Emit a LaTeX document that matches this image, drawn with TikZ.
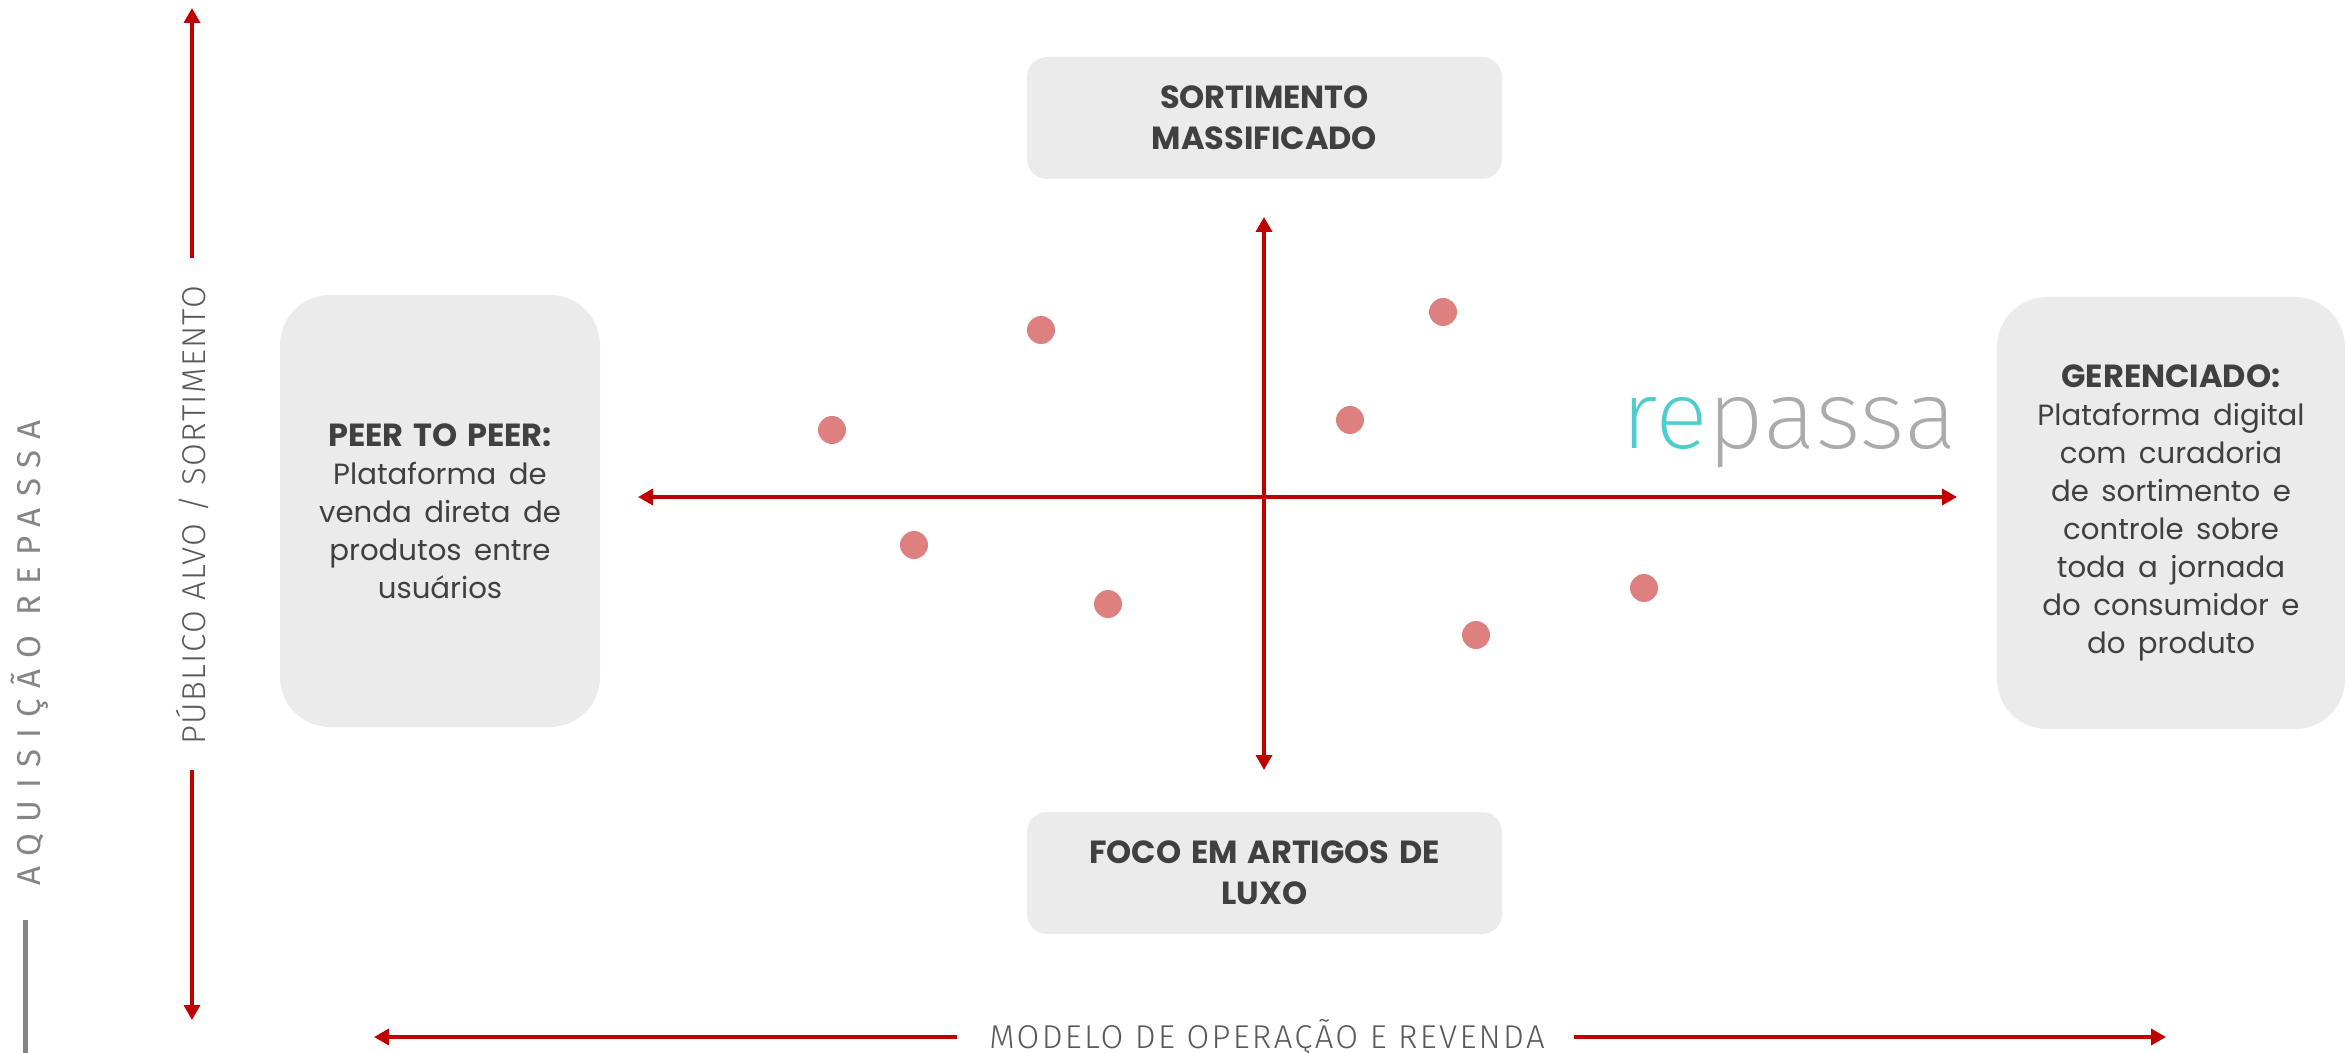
\documentclass[tikz,border=0pt]{standalone}
\usepackage{fontspec}
\setmainfont{Poppins}[WordSpace=1.6]
\newfontfamily\headfont{Poppins}[WordSpace=1.45]
\newfontfamily\spacedfont{Fira Sans}[LetterSpace=34]
\IfFontExistsTF{Fira Sans Light}
  {\newfontfamily\labfont{Fira Sans Light}[LetterSpace=4]
   \newfontfamily\botfont{Fira Sans Light}[LetterSpace=7]}
  {\newfontfamily\labfont{Fira Sans}[LetterSpace=4]
   \newfontfamily\botfont{Fira Sans}[LetterSpace=7]}
\IfFontExistsTF{Fira Sans ExtraLight}
  {\newfontfamily\logofont{Fira Sans ExtraLight}}
  {\IfFontExistsTF{Fira Sans Light}
     {\newfontfamily\logofont{Fira Sans Light}}
     {\newfontfamily\logofont{Fira Sans}}}
\usetikzlibrary{arrows.meta}
\definecolor{boxgray}{HTML}{EBEBEB}
\definecolor{txtgray}{HTML}{404040}
\definecolor{axred}{HTML}{C00000}
\definecolor{dotred}{HTML}{DE8080}
\definecolor{labgray}{HTML}{5A5A5A}
\definecolor{sidegray}{HTML}{858585}
\definecolor{teal}{HTML}{4FCDCD}
\definecolor{logogray}{HTML}{ABABAB}
\begin{document}
\begin{tikzpicture}[x=0.5pt,y=-0.5pt,
  tb/.style={fill=boxgray, rounded corners=10pt, inner sep=0pt, text=txtgray, align=center,
    minimum width=237.5pt, minimum height=61pt,
    font=\headfont\bfseries\fontsize{16}{20.5}\selectfont},
  sb/.style={fill=boxgray, rounded corners=25pt, inner sep=0pt, text=txtgray, align=center,
    minimum height=216pt, font=\fontsize{14.6}{19}\selectfont},
  axis/.style={draw=axred, line width=1.75pt},
  tipboth/.style={{Triangle[length=7.5pt,width=8pt]}-{Triangle[length=7.5pt,width=8pt]}},
  tipend/.style={-{Triangle[length=7.5pt,width=8pt]}},
  dot/.style={circle, fill=dotred, minimum size=14pt, inner sep=0pt},
  lab/.style={text=labgray, inner sep=0pt, font=\labfont\fontsize{16.5}{17}\selectfont}
]
\useasboundingbox (0,0) rectangle (2349,1053);

% boxes
\node[tb] (top) at (1264.5,118) {SORTIMENTO\\MASSIFICADO};
\node[tb] (bot) at (1264.5,873) {FOCO EM ARTIGOS DE\\LUXO};
\node[sb, minimum width=160pt] (left) at (440,511)
  {{\headfont\bfseries\fontsize{16}{19}\selectfont PEER TO PEER:}\\
   Plataforma de\\venda direta de\\produtos entre\\usuários};
\node[sb, minimum width=174pt] (right) at (2171,513)
  {{\headfont\bfseries\fontsize{16}{19}\selectfont GERENCIADO:}\\
   Plataforma digital\\com curadoria\\de sortimento e\\controle sobre\\toda a jornada\\do consumidor e\\do produto};

% central axes
\coordinate (vT) at (1264,217);
\coordinate (vB) at (1264,770);
\coordinate (hL) at (638,497);
\coordinate (hR) at (1957,497);
\draw[axis, tipboth] (vB) -- (vT);
\draw[axis, tipboth] (hL) -- (hR);

% dots
\node[dot] (d1) at (1041,330) {};
\node[dot] (d2) at (1443,312) {};
\node[dot] (d3) at (832,430) {};
\node[dot] (d4) at (1350,420) {};
\node[dot] (d5) at (914,545) {};
\node[dot] (d6) at (1108,604) {};
\node[dot] (d7) at (1644,588) {};
\node[dot] (d8) at (1476,635) {};

% logo
\node[anchor=base west, inner sep=0pt, xscale=1.03, font=\logofont\fontsize{48}{48}\selectfont] (logo) at (1621,448)
  {\textcolor{teal}{re}\textcolor{logogray}{passa}};

% left vertical axis with label
\node[lab, rotate=90] (plab) at (192,515) {PÚBLICO ALVO / SORTIMENTO};
\coordinate (pT1) at (192,258);
\coordinate (pT2) at (192,8);
\coordinate (pB1) at (192,770);
\coordinate (pB2) at (192,1020);
\draw[axis, tipend] (pT1) -- (pT2);
\draw[axis, tipend] (pB1) -- (pB2);

% bottom axis with label
\node[text=labgray, inner sep=0pt, font=\botfont\fontsize{16.5}{17}\selectfont] (mlab) at (1267,1038) {MODELO DE OPERAÇÃO E REVENDA};
\coordinate (mL1) at (957,1037);
\coordinate (mL2) at (374,1037);
\coordinate (mR1) at (1574,1037);
\coordinate (mR2) at (2166,1037);
\draw[axis, tipend] (mL1) -- (mL2);
\draw[axis, tipend] (mR1) -- (mR2);

% side title
\node[rotate=90, text=sidegray, inner sep=0pt, font=\spacedfont\fontsize{16.5}{17}\selectfont] (side) at (30,653) {AQUISIÇÃO REPASSA};
\coordinate (barT) at (25,920);
\coordinate (barB) at (25,1053);
\draw[sidegray, line width=2.5pt] (barT) -- (barB);
\end{tikzpicture}
\end{document}
